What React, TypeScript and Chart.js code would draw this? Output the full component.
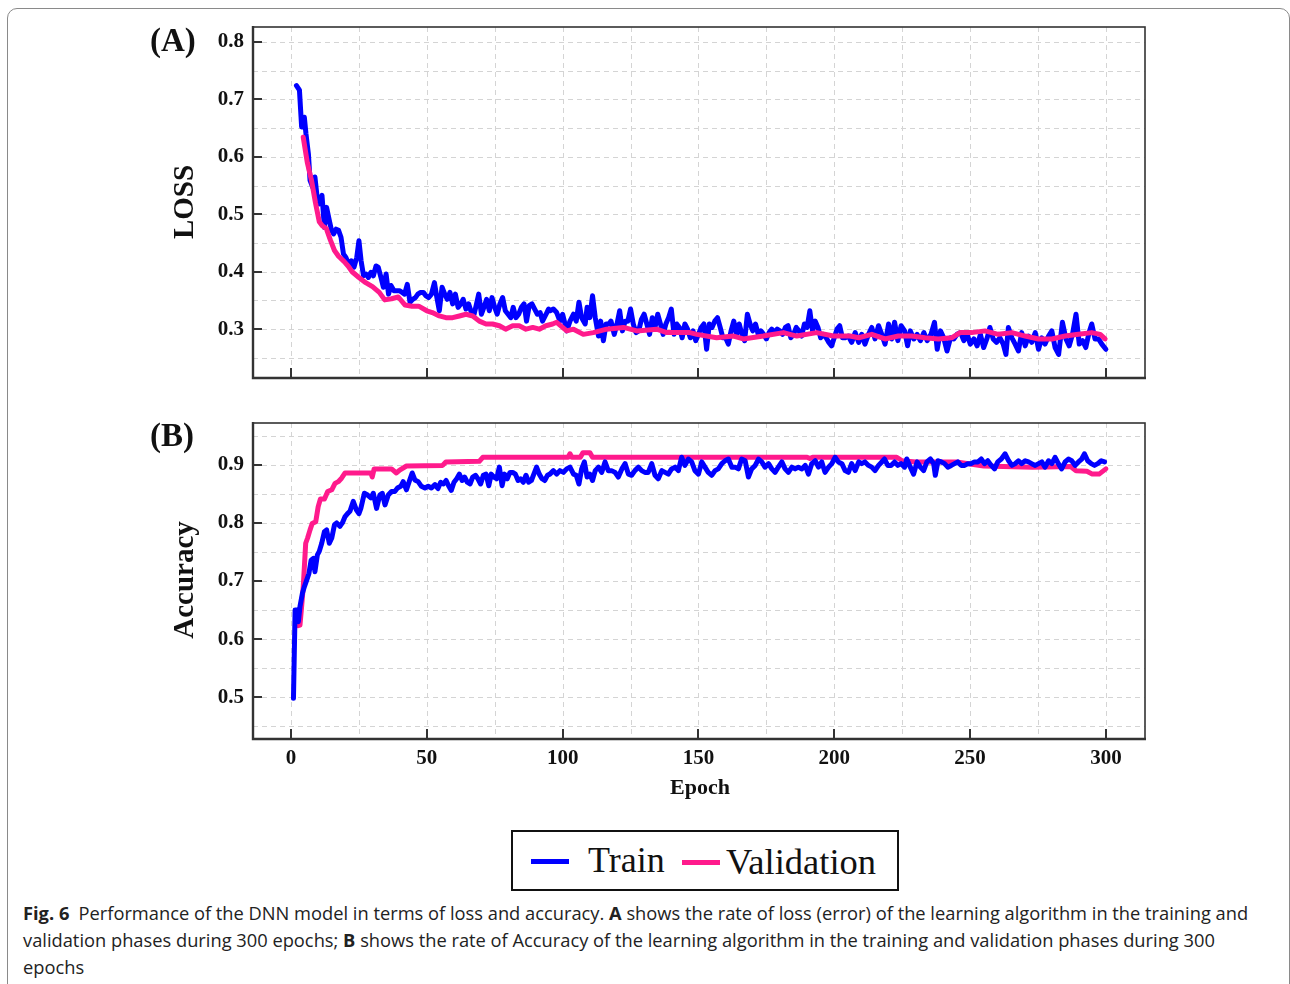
import React, { useEffect, useRef } from 'react';
import { Chart, registerables } from 'chart.js';

Chart.register(...registerables);

const BLUE = '#0000ff';
const PINK = '#ff1a8c';
const SERIF = '"Liberation Serif", "Times New Roman", serif';

const epochTicks = [0, 50, 100, 150, 200, 250, 300];
const lossTickLabels = ['0.3', '0.4', '0.5', '0.6', '0.7', '0.8'];
const accTickLabels = ['0.5', '0.6', '0.7', '0.8', '0.9'];

// [epoch, value]
const trainLoss: [number, number][] = [
  [2.0, .724], [3.1, .716], [3.9, .652], [4.9, .669], [5.5, .640], [6.4, .605], [7.0, .559], [8.0, .547], [8.8, .565], [9.6, .530],
  [10.4, .518], [11.4, .533], [12.3, .477], [13.1, .512], [14.1, .489], [14.9, .472], [15.7, .466], [16.6, .474], [17.5, .472], [18.4, .460],
  [19.3, .431], [20.2, .425], [21.2, .413], [22.2, .419], [23.2, .408], [24.2, .425], [25.0, .454], [25.8, .419], [26.7, .393], [27.6, .396],
  [28.5, .390], [29.4, .399], [30.3, .393], [31.3, .410], [32.1, .408], [33.1, .390], [34.0, .373], [35.0, .396], [35.9, .361], [36.8, .376],
  [37.9, .367], [38.9, .367], [39.9, .367], [40.9, .364], [41.8, .361], [42.8, .378], [43.8, .347], [44.8, .352], [45.8, .355], [46.7, .361],
  [47.7, .364], [48.7, .364], [49.7, .358], [50.7, .355], [51.7, .361], [52.8, .381], [53.7, .355], [54.6, .332], [55.6, .373], [56.6, .361],
  [57.5, .352], [58.5, .364], [59.5, .344], [60.5, .361], [61.5, .338], [62.5, .344], [63.4, .352], [64.4, .335], [65.4, .344], [66.4, .329],
  [67.4, .326], [68.3, .344], [69.1, .361], [70.1, .326], [71.0, .338], [72.0, .352], [73.0, .332], [74.0, .355], [75.0, .338], [75.9, .326],
  [76.9, .344], [77.9, .355], [78.9, .332], [79.9, .326], [80.9, .320], [81.8, .338], [82.8, .320], [83.8, .326], [84.8, .338], [85.8, .344],
  [86.7, .314], [87.7, .341], [88.7, .344], [89.7, .335], [90.7, .326], [91.7, .329], [92.6, .314], [93.9, .326], [94.8, .335],
  [95.4, .332], [96.6, .335], [97.8, .329], [99, .314], [100, .326], [101.5, .297], [102.7, .314], [104, .326], [105, .314], [106, .347],
  [107, .320], [108.3, .309], [109, .338], [110, .320], [111, .358], [112, .320], [113.2, .288], [114, .314], [115, .280], [116, .309],
  [117, .309], [117.8, .314], [119, .291], [120, .309], [121, .332], [122, .297], [123, .314], [124, .314], [125, .335], [126, .309],
  [127, .294], [128, .297], [129, .317], [130, .326], [131, .309], [132, .291], [133, .320], [134, .303], [135, .326], [136, .309],
  [137, .291], [138, .309], [139, .320], [140, .335], [141, .291], [142, .309], [143, .303], [144, .285], [145, .309], [146, .300],
  [147, .285], [148, .297], [149, .280], [150, .291], [151, .303], [152, .309], [153, .265], [154, .309], [155, .303], [156, .314],
  [157, .320], [158, .303], [159, .285], [160, .285], [161, .274], [162, .297], [163, .314], [164, .291], [165, .309], [166, .291],
  [167, .280], [168, .326], [169, .309], [170, .297], [171, .309], [172, .291], [173, .297], [174, .291], [175, .283], [176, .294],
  [177, .300], [178, .294], [179, .300], [180, .297], [181, .291], [182, .303], [183, .306], [184, .285], [185, .291], [186, .303],
  [187, .297], [188, .288], [189, .309], [190, .303], [191, .332], [192, .297], [193, .314], [194, .303], [195, .285], [196, .291],
  [197, .285], [198, .277], [199, .271], [200, .285], [201, .300], [202, .306], [203, .285],
  [204, .285], [205.2, .288], [206.4, .277], [207.7, .294], [209, .277], [210.1, .291], [211.3, .274], [212.6, .291], [213.8, .303], [215, .283],
  [216.3, .306], [217.5, .291], [218.7, .274], [220, .309], [221.2, .283], [222.2, .312], [223.4, .280], [224.6, .306], [225.9, .297], [227, .271],
  [228, .297], [229.3, .283], [230.5, .291], [231.7, .280], [233, .294], [234.2, .280], [235.6, .291], [236.9, .312], [237.9, .265], [239.1, .297],
  [240.3, .285], [241.5, .262], [242.8, .285], [244, .283], [245.2, .291], [246.5, .294], [247.7, .280], [248.9, .291], [250.1, .274], [251.4, .283],
  [252.6, .271], [253.8, .291], [255, .268], [256.3, .285], [257.3, .303], [258.5, .283], [259.7, .277], [261, .285], [262.2, .274], [263.2, .256],
  [264.1, .303], [265.4, .285], [266.6, .274], [267.8, .262], [269, .294], [270.3, .271], [271.5, .288], [272.7, .277], [274, .294], [275.2, .265],
  [276.4, .285], [277.6, .274], [278.9, .288], [280.1, .297], [281.3, .268], [282.6, .256], [284, .312], [285.3, .283], [286.5, .271], [287.7, .291],
  [289, .326], [290.2, .274], [291.4, .280], [292.6, .268], [293.8, .294], [294.8, .309], [296, .283], [297.3, .283], [298.5, .274], [300, .265],
];

const valLoss: [number, number][] = [
  [4.5, .634], [6, .590], [7.5, .560], [9, .520], [10.4, .487], [11.5, .480], [13, .475], [14.5, .455], [16, .437], [17.5, .427],
  [19.5, .418], [21, .410], [22.5, .400], [25, .390], [27.5, .381], [30, .374], [32.5, .364], [34.5, .351], [37, .353], [39.5, .356],
  [42, .342], [44.5, .340], [47, .340], [50, .332], [52, .329], [54.6, .323], [57, .320], [59.5, .320], [62, .323], [64.4, .326],
  [66.9, .323], [69.3, .314], [71.8, .309], [74.2, .309], [76.7, .306], [79, .300], [81.6, .306], [84, .306], [86.5, .300], [89, .303],
  [91.4, .300], [93.8, .306], [96.3, .309], [97.8, .312], [101.5, .297], [104, .300], [107.6, .291], [111.3, .294], [116.2, .300], [122.4, .303],
  [127.3, .297], [134.6, .300], [138.3, .294], [146.9, .294], [149.4, .291], [156.7, .285], [162.9, .288], [166.5, .283], [173.9, .288], [181.3, .294],
  [186.2, .288], [193.5, .294], [199.7, .288], [205.8, .288], [209, .285], [213.8, .291], [218.7, .283], [223.6, .288], [228.5, .288], [233.4, .285],
  [238.3, .283], [243.2, .285], [246.3, .294], [250.6, .294], [255.5, .297], [260.4, .291], [265.4, .294], [270.3, .288], [275.2, .283], [280.1, .283],
  [285, .288], [289.9, .291], [294.8, .294], [297.9, .291], [299.7, .283],
];

const trainAcc: [number, number][] = [
  [0.9, .498], [1.5, .650], [2.3, .650], [2.7, .630], [3.3, .656], [4.2, .679], [4.9, .690], [5.8, .702], [6.6, .713], [7.4, .736],
  [8.2, .739], [8.8, .716], [9.7, .745], [10.4, .751], [11.3, .765], [12.3, .785], [13.1, .788], [14.1, .765], [15, .774], [16, .797],
  [16.8, .800], [18, .794], [18.9, .800], [19.9, .811], [20.8, .816], [21.7, .820], [22.9, .837], [24.1, .822], [25, .816], [25.7, .825],
  [27, .851], [28.2, .848], [29.4, .843], [30.3, .851], [31.5, .825], [32.7, .848], [33.6, .851], [34.6, .831], [35.8, .848], [37, .854],
  [38.2, .854], [39.2, .860], [40.4, .863], [41.3, .871], [42.5, .857], [43.7, .874], [44.6, .886], [45.6, .874], [46.8, .871], [48, .863],
  [49.3, .860], [50.5, .863], [51.7, .860], [53, .866], [54.1, .859], [55.1, .870], [56.1, .867], [57.1, .873], [58, .864], [59, .856],
  [60, .870], [61, .876], [62, .884], [63, .873], [63.9, .879], [64.9, .870], [65.9, .867], [66.9, .879], [67.9, .882], [68.8, .876],
  [69.8, .867], [70.8, .882], [71.8, .884], [72.8, .864], [73.7, .884], [74.7, .879], [75.7, .876], [76.7, .896], [77.7, .864], [78.6, .884],
  [79.6, .876], [80.6, .887], [81.6, .887], [82.6, .884], [83.6, .873], [84.5, .876], [85.5, .870], [86.5, .882], [87.5, .870], [88.5, .873],
  [89.4, .884], [90.4, .896], [91.4, .884], [92.4, .876], [93.4, .873], [94.4, .882], [95.3, .884],
  [96.6, .890], [97.8, .884], [99, .890], [100.3, .887], [101.5, .893], [102.7, .896], [104, .884], [105, .882], [106, .867], [107, .893],
  [108, .905], [109, .879], [110, .884], [111, .873], [112, .890], [113.2, .896], [114.4, .887], [115.6, .905], [116.8, .890], [118, .890],
  [119.3, .887], [120.5, .879], [121.8, .893], [123, .902], [124.2, .884], [125.4, .882], [126.6, .890], [127.9, .896], [129.1, .890], [130.3, .887],
  [131.5, .887], [132.8, .902], [134, .882], [135.2, .876], [136.5, .890], [137.7, .887], [138.9, .884], [140.1, .893], [141.4, .896], [142.6, .890],
  [143.8, .913], [145, .899], [146.3, .910], [147.5, .905], [148.7, .890], [150, .884], [151.2, .905], [152.4, .896], [153.6, .887], [154.9, .882],
  [156.1, .890], [157.3, .893], [158.6, .902], [159.8, .907], [161, .910], [162.3, .896], [163.5, .896], [164.7, .893], [165.9, .910], [167.2, .907],
  [168.4, .879], [169.6, .893], [170.9, .899], [172.1, .910], [173.3, .905], [174.5, .896], [175.8, .902], [177, .893], [178.2, .887], [179.4, .896],
  [180.7, .905], [181.9, .893], [183.1, .887], [184.4, .896], [185.6, .893], [186.8, .896], [188.1, .893], [189.3, .899], [190.5, .884], [191.7, .902],
  [193, .907], [194.2, .896], [195.4, .905], [196.6, .887], [197.9, .896], [199.1, .902], [200.3, .913], [201.5, .905], [202.8, .902],
  [204, .890], [205.2, .887], [206.4, .902], [207.7, .890], [209, .905], [210.1, .902], [211.3, .905], [212.6, .899], [213.8, .896], [215, .890],
  [216.3, .899], [217.5, .905], [218.5, .910], [219.7, .899], [220.9, .899], [222.2, .905], [223.4, .899], [224.6, .902], [225.9, .896], [226.7, .910],
  [228, .896], [229.2, .884], [230.5, .905], [231.7, .896], [232.9, .890], [234.1, .905], [235.4, .910], [236.6, .902], [237.2, .882], [238.2, .907],
  [239.4, .905], [240.6, .902], [241.8, .896], [243.1, .899], [244.3, .902], [245.5, .905], [246.7, .899], [248, .899], [249.2, .902], [250.4, .902],
  [251.6, .905], [252.9, .905], [254.1, .910], [255.3, .902], [256.5, .907], [257.8, .899], [259, .893], [260.2, .905], [261.5, .910], [262.9, .919],
  [264.2, .907], [265.4, .899], [266.6, .902], [267.8, .907], [269, .902], [270.3, .907], [271.5, .905], [272.7, .902], [274, .899], [275.2, .902],
  [276.4, .905], [277.6, .896], [278.9, .907], [280.1, .902], [281.3, .913], [282.5, .902], [283.7, .893], [285, .905], [286.2, .910], [287.4, .907],
  [288.7, .899], [289.9, .905], [291.1, .910], [292.1, .919], [293.3, .907], [294.6, .902], [295.8, .899], [297, .902], [298.3, .907], [299.5, .905],
];

const valAcc: [number, number][] = [
  [2.6, .623], [3.3, .624], [3.9, .656], [4.5, .690], [5.4, .765], [6.1, .774], [7, .788], [7.8, .799], [9.1, .802], [10, .828],
  [10.8, .841], [12.3, .841], [13.5, .854], [15, .857], [16.2, .868], [17.4, .871], [18.6, .877], [19.9, .886], [21.7, .886], [26, .886],
  [29.4, .886], [29.9, .879], [30.6, .893], [37, .893], [38.8, .886], [40, .891], [42.5, .898], [55.8, .899], [57, .905], [69.3, .906],
  [70.6, .913], [102, .913], [102.7, .919], [103.4, .913], [106.5, .913], [107.5, .921], [110, .921], [111, .913], [190, .913], [191, .911],
  [192, .913], [223, .913], [225, .907], [230, .905], [245, .905], [255, .898], [273, .896], [287, .897], [289, .890], [293, .889],
  [295, .884], [297.5, .884], [300, .893],
];

const toPts = (arr: [number, number][]) => arr.map(([x, y]) => ({ x, y }));
const findLabel = (labels: string[], v: number) => labels.find((l) => Math.abs(Number(l) - v) < 1e-6);

const framePlugin = {
  id: 'framePlugin',
  beforeDatasetsDraw(chart: any) {
    const { ctx, chartArea: a, scales } = chart;
    const xs = scales.x;
    const ys = scales.y;
    ctx.save();
    ctx.strokeStyle = '#d4d4d4';
    ctx.lineWidth = 1;
    ctx.setLineDash([5, 4]);
    xs.ticks.forEach((t: any) => {
      const px = Math.round(xs.getPixelForValue(t.value)) + 0.5;
      ctx.beginPath();
      ctx.moveTo(px, a.top);
      ctx.lineTo(px, a.bottom);
      ctx.stroke();
    });
    ys.ticks.forEach((t: any) => {
      const py = Math.round(ys.getPixelForValue(t.value)) + 0.5;
      ctx.beginPath();
      ctx.moveTo(a.left, py);
      ctx.lineTo(a.right, py);
      ctx.stroke();
    });
    ctx.restore();
  },
  afterDatasetsDraw(chart: any, _args: any, opts: any) {
    const { ctx, chartArea: a, scales } = chart;
    const xs = scales.x;
    const ys = scales.y;
    const labels: string[] = opts.yLabels || [];
    ctx.save();
    ctx.strokeStyle = '#333';
    ctx.setLineDash([]);
    ctx.lineWidth = 2;
    epochTicks.forEach((v) => {
      const px = Math.round(xs.getPixelForValue(v));
      ctx.beginPath();
      ctx.moveTo(px, a.bottom);
      ctx.lineTo(px, a.bottom - 10);
      ctx.stroke();
    });
    labels.forEach((l) => {
      const py = Math.round(ys.getPixelForValue(Number(l)));
      ctx.beginPath();
      ctx.moveTo(a.left, py);
      ctx.lineTo(a.left + 9, py);
      ctx.stroke();
    });
    ctx.lineWidth = 1.6;
    ctx.strokeRect(a.left, a.top, a.right - a.left, a.bottom - a.top);
    ctx.lineWidth = 2.4;
    ctx.beginPath();
    ctx.moveTo(a.left, a.top - 1);
    ctx.lineTo(a.left, a.bottom);
    ctx.lineTo(a.right + 1, a.bottom);
    ctx.stroke();
    ctx.restore();
  },
};

type PanelProps = {
  left: number; top: number; width: number; height: number;
  padTop: number; xHeight: number;
  yMin: number; yMax: number; yLabels: string[];
  showX: boolean;
  series: { data: [number, number][]; color: string; order: number }[];
};

function Panel(p: PanelProps) {
  const ref = useRef<HTMLCanvasElement>(null);
  useEffect(() => {
    if (!ref.current) return;
    const tickFont = { family: SERIF, size: 21, weight: 'bold' as const };
    const chart = new Chart(ref.current, {
      type: 'line',
      data: {
        datasets: p.series.map((s) => ({
          data: toPts(s.data),
          borderColor: s.color,
          backgroundColor: s.color,
          borderWidth: 5,
          pointRadius: 0,
          tension: 0,
          fill: false,
          order: s.order,
          borderJoinStyle: 'round' as const,
          borderCapStyle: 'round' as const,
        })),
      },
      options: {
        animation: false,
        responsive: false,
        devicePixelRatio: 1,
        layout: { padding: { top: p.padTop, right: 15, left: 0, bottom: 0 } },
        plugins: {
          legend: { display: false },
          tooltip: { enabled: false },
          framePlugin: { yLabels: p.yLabels },
        } as any,
        scales: {
          x: {
            type: 'linear',
            min: -14,
            max: 314.4,
            grid: { display: false, drawTicks: false },
            border: { display: false },
            ticks: {
              display: p.showX,
              stepSize: 25,
              includeBounds: false,
              autoSkip: false,
              maxRotation: 0,
              padding: 7,
              color: '#111',
              font: tickFont,
              callback: (v: any) => (epochTicks.includes(Number(v)) ? String(v) : ''),
            },
            afterFit: (s: any) => { s.height = p.xHeight; },
          },
          y: {
            type: 'linear',
            min: p.yMin,
            max: p.yMax,
            grid: { display: false, drawTicks: false },
            border: { display: false },
            ticks: {
              stepSize: 0.05,
              includeBounds: false,
              autoSkip: false,
              padding: 9,
              color: '#111',
              font: tickFont,
              callback: (v: any) => findLabel(p.yLabels, Number(v)) ?? '',
            },
            afterFit: (s: any) => { s.width = 113; },
          },
        },
      },
      plugins: [framePlugin],
    });
    return () => chart.destroy();
  }, []);
  return (
    <canvas
      ref={ref}
      width={p.width}
      height={p.height}
      style={{ position: 'absolute', left: p.left, top: p.top, width: p.width, height: p.height }}
    />
  );
}

const abs = (s: React.CSSProperties): React.CSSProperties => ({ position: 'absolute', whiteSpace: 'nowrap', ...s });

export default function App() {
  const serifBold: React.CSSProperties = { fontFamily: SERIF, fontWeight: 'bold', color: '#111', lineHeight: 1 };
  const capFont: React.CSSProperties = { fontFamily: '"Open Sans", "Noto Sans", sans-serif', fontSize: 18.3, color: '#222', lineHeight: '27px' };
  return (
    <div style={{ position: 'absolute', left: 0, top: 0, width: 1290, height: 984, overflow: 'hidden', background: '#fff' }}>
      <div style={abs({ left: 7, top: 8, width: 1283, height: 1100, border: '1px solid #8a8a8a', borderRadius: 10, boxSizing: 'border-box' })} />

      <Panel
        left={140} top={-3} width={1020} height={411} padTop={30} xHeight={30}
        yMin={0.215} yMax={0.826} yLabels={lossTickLabels} showX={false}
        series={[{ data: trainLoss, color: BLUE, order: 1 }, { data: valLoss, color: PINK, order: 0 }]}
      />
      <Panel
        left={140} top={393} width={1020} height={417} padTop={30} xHeight={71}
        yMin={0.428} yMax={0.972} yLabels={accTickLabels} showX={true}
        series={[{ data: trainAcc, color: BLUE, order: 0 }, { data: valAcc, color: PINK, order: 1 }]}
      />

      <div style={abs({ ...serifBold, fontSize: 33, left: 150, top: 24 })}>(A)</div>
      <div style={abs({ ...serifBold, fontSize: 33, left: 150, top: 419 })}>(B)</div>
      <div style={abs({ ...serifBold, fontSize: 29, left: 183, top: 202, transform: 'translate(-50%, -50%) rotate(-90deg)' })}>LOSS</div>
      <div style={abs({ ...serifBold, fontSize: 29, left: 183, top: 580, transform: 'translate(-50%, -50%) rotate(-90deg)' })}>Accuracy</div>
      <div style={abs({ ...serifBold, fontSize: 22, left: 700, top: 787, transform: 'translate(-50%, -50%)' })}>Epoch</div>

      <div style={abs({ left: 511, top: 830, width: 388, height: 61, border: '2px solid #111', boxSizing: 'border-box', background: '#fff' })}>
        <div style={abs({ left: 18, top: 27, width: 38, height: 5, background: BLUE })} />
        <div style={abs({ left: 75, top: 10, fontFamily: SERIF, fontSize: 36, color: '#111', lineHeight: 1 })}>Train</div>
        <div style={abs({ left: 169, top: 28, width: 38, height: 5, background: PINK })} />
        <div style={abs({ left: 213, top: 12, fontFamily: SERIF, fontSize: 36.5, color: '#111', lineHeight: 1 })}>Validation</div>
      </div>

      <div style={abs({ ...capFont, left: 23, top: 899 })}>
        <b>Fig. 6</b>{'\u2002'}Performance of the DNN model in terms of loss and accuracy. <b>A</b> shows the rate of loss (error) of the learning algorithm in the training and
      </div>
      <div style={abs({ ...capFont, left: 23, top: 926 })}>
        validation phases during 300 epochs; <b>B</b> shows the rate of Accuracy of the learning algorithm in the training and validation phases during 300
      </div>
      <div style={abs({ ...capFont, left: 23, top: 953 })}>epochs</div>
    </div>
  );
}
